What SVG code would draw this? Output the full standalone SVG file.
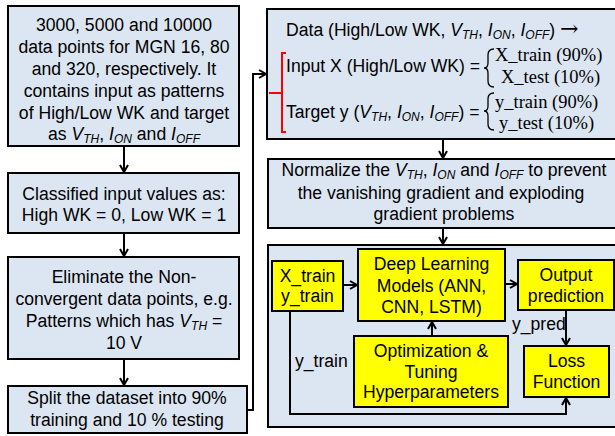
<svg xmlns="http://www.w3.org/2000/svg" width="615" height="436" viewBox="0 0 615 436">
  <style>
    .box { fill: #dce6f2; stroke: #000; stroke-width: 2; }
    .ybox { fill: #ffff00; stroke: #000; stroke-width: 2; }
    .t { font-family: "Liberation Sans", Arial, sans-serif; font-size: 17.6px; fill: #000; }
    .c { text-anchor: middle; }
    .s { font-family: "Liberation Serif", "Times New Roman", serif; font-size: 18.5px; fill: #000; }
    .sub { font-size: 12px; font-style: italic; }
    .it { font-style: italic; }
    .arr { font-family: "DejaVu Serif", "Liberation Serif", serif; font-size: 22px; }
    .wire { fill: none; stroke: #000; stroke-width: 2; }
    .red { fill: none; stroke: #ff0000; stroke-width: 2; }
  </style>
  <defs>
    <marker id="arrow" markerUnits="userSpaceOnUse" markerWidth="12" markerHeight="12" refX="8" refY="5" orient="auto">
      <path d="M1,1 L8,5 L1,9" fill="none" stroke="#000" stroke-width="2"/>
    </marker>
  </defs>

  <!-- left column -->
  <g id="dataset">
    <rect class="box" x="8" y="6" width="231" height="140"/>
    <text class="t c" x="124" y="31">3000, 5000 and 10000</text>
    <text class="t c" x="124" y="53">data points for MGN 16, 80</text>
    <text class="t c" x="124" y="75">and 320, respectively. It</text>
    <text class="t c" x="124" y="97">contains input as patterns</text>
    <text class="t c" x="124" y="119">of High/Low WK and target</text>
    <text class="t c" x="124" y="140">as <tspan class="it">V</tspan><tspan class="sub" dy="3">TH</tspan><tspan dy="-3">, </tspan><tspan class="it">I</tspan><tspan class="sub" dy="3">ON</tspan><tspan dy="-3"> and </tspan><tspan class="it">I</tspan><tspan class="sub" dy="3">OFF</tspan></text>
  </g>

  <g id="classify">
    <rect class="box" x="8" y="173" width="231" height="60"/>
    <text class="t c" x="124" y="200">Classified input values as:</text>
    <text class="t c" x="124" y="221">High WK = 0, Low WK = 1</text>
  </g>

  <g id="eliminate">
    <rect class="box" x="8" y="257" width="231" height="102"/>
    <text class="t c" x="124" y="283">Eliminate the Non-</text>
    <text class="t c" x="124" y="305">convergent data points, e.g.</text>
    <text class="t c" x="124" y="327">Patterns which has <tspan class="it">V</tspan><tspan class="sub" dy="3">TH</tspan><tspan dy="-3"> =</tspan></text>
    <text class="t c" x="124" y="349">10 V</text>
  </g>

  <g id="split">
    <rect class="box" x="8" y="386" width="239" height="47"/>
    <text class="t c" x="127" y="404">Split the dataset into 90%</text>
    <text class="t c" x="127" y="426">training and 10 % testing</text>
  </g>

  <!-- right column -->
  <g id="data-split">
    <rect class="box" x="267" y="9" width="360" height="130"/>
    <text class="t" x="286" y="36">Data (High/Low WK, <tspan class="it">V</tspan><tspan class="sub" dy="3">TH</tspan><tspan dy="-3">, </tspan><tspan class="it">I</tspan><tspan class="sub" dy="3">ON</tspan><tspan dy="-3">, </tspan><tspan class="it">I</tspan><tspan class="sub" dy="3">OFF</tspan><tspan dy="-3">) </tspan><tspan class="arr">→</tspan></text>
    <text class="t" x="286" y="72">Input X (High/Low WK) =</text>
    <text class="t" x="286" y="118">Target y (<tspan class="it">V</tspan><tspan class="sub" dy="3">TH</tspan><tspan dy="-3">, </tspan><tspan class="it">I</tspan><tspan class="sub" dy="3">ON</tspan><tspan dy="-3">, </tspan><tspan class="it">I</tspan><tspan class="sub" dy="3">OFF</tspan><tspan dy="-3">) =</tspan></text>
    <!-- braces -->
    <path d="M494 49 Q488 49 488 55 L488 63 Q488 68 484 68 Q488 68 488 73 L488 81 Q488 87 494 87" fill="none" stroke="#000" stroke-width="1.3"/>
    <path d="M494 93 Q488 93 488 99 L488 106 Q488 111 484 111 Q488 111 488 116 L488 124 Q488 130 494 130" fill="none" stroke="#000" stroke-width="1.3"/>
    <text class="s" x="495" y="61">X_train (90%)</text>
    <text class="s" x="501" y="83">X_test (10%)</text>
    <text class="s" x="495" y="108">y_train (90%)</text>
    <text class="s" x="499" y="129">y_test (10%)</text>
    <!-- red bracket -->
    <path class="red" d="M286 53 H282 V132 H286 M269 93 H282"/>
  </g>

  <g id="normalize">
    <rect class="box" x="268" y="159" width="360" height="69"/>
    <text class="t c" x="444" y="176">Normalize the <tspan class="it">V</tspan><tspan class="sub" dy="3">TH</tspan><tspan dy="-3">, </tspan><tspan class="it">I</tspan><tspan class="sub" dy="3">ON</tspan><tspan dy="-3"> and </tspan><tspan class="it">I</tspan><tspan class="sub" dy="3">OFF</tspan><tspan dy="-3"> to prevent</tspan></text>
    <text class="t c" x="441" y="199">the vanishing gradient and exploding</text>
    <text class="t c" x="444" y="220">gradient problems</text>
  </g>

  <g id="training">
    <rect class="box" x="268" y="245" width="360" height="182"/>
  </g>

  <g id="train-data">
    <rect class="ybox" x="272" y="261" width="71" height="50"/>
    <text class="t c" x="307.5" y="282">X_train</text>
    <text class="t c" x="307.5" y="302">y_train</text>
  </g>

  <g id="models">
    <rect class="ybox" x="358" y="249" width="147" height="72"/>
    <text class="t c" x="431.5" y="270">Deep Learning</text>
    <text class="t c" x="431.5" y="292">Models (ANN,</text>
    <text class="t c" x="431.5" y="313">CNN, LSTM)</text>
  </g>

  <g id="output">
    <rect class="ybox" x="518" y="260" width="96" height="50"/>
    <text class="t c" x="566" y="281">Output</text>
    <text class="t c" x="566" y="302">prediction</text>
  </g>

  <g id="tuning">
    <rect class="ybox" x="354" y="336" width="154" height="71"/>
    <text class="t c" x="431" y="357">Optimization &amp;</text>
    <text class="t c" x="431" y="378">Tuning</text>
    <text class="t c" x="431" y="398">Hyperparameters</text>
  </g>

  <g id="loss">
    <rect class="ybox" x="524" y="346" width="85" height="51"/>
    <text class="t c" x="566.5" y="367">Loss</text>
    <text class="t c" x="566.5" y="388">Function</text>
  </g>

  <!-- connectors -->
  <g id="connectors">
    <path class="wire" d="M124 146 V172" marker-end="url(#arrow)"/>
    <path class="wire" d="M124 233 V256" marker-end="url(#arrow)"/>
    <path class="wire" d="M124 359 V385" marker-end="url(#arrow)"/>
    <path class="wire" d="M247 410 H253 V74 H266" marker-end="url(#arrow)"/>
    <path class="wire" d="M443 139 V158" marker-end="url(#arrow)"/>
    <path class="wire" d="M443 228 V244" marker-end="url(#arrow)"/>
    <path class="wire" d="M343 285 H357" marker-end="url(#arrow)"/>
    <path class="wire" d="M505 284 H517" marker-end="url(#arrow)"/>
    <path class="wire" d="M432 336 V322" marker-end="url(#arrow)"/>
    <path class="wire" d="M566 310 V345" marker-end="url(#arrow)"/>
    <path class="wire" d="M290 311 V414 H566 V398" marker-end="url(#arrow)"/>
    <text class="t" x="512" y="330">y_pred</text>
    <text class="t" x="295" y="367">y_train</text>
  </g>
</svg>
